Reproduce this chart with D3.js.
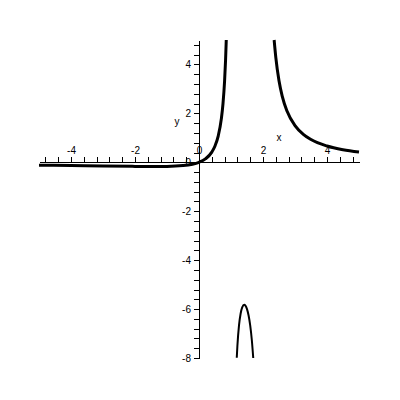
<!DOCTYPE html>
<html>
<head>
<meta charset="utf-8">
<script src="https://cdn.jsdelivr.net/npm/d3@7"></script>
<style>
  body { margin: 0; background: #fff; }
  svg { display: block; }
  text { font-family: "Liberation Sans", Arial, sans-serif; font-size: 10px; fill: #000; }
  .axis path, .axis line { shape-rendering: crispEdges; stroke: #000; }
</style>
</head>
<body>
<div id="chart"></div>
<script>
// values, one array per branch
var leftX  = [-5, -4, -3, -2, -1.5, -1, -0.5, 0, 0.2, 0.4, 0.5, 0.6, 0.7, 0.75, 0.8, 0.83, 0.852];
var leftY  = [-0.119, -0.133, -0.15, -0.167, -0.171, -0.167, -0.133, 0, 0.139, 0.417, 0.667, 1.071, 1.795, 2.4, 3.333, 4.173, 5];
var archX  = [1.18, 1.2, 1.25, 1.3, 1.35, 1.414, 1.45, 1.5, 1.55, 1.6, 1.65, 1.695];
var archY  = [-7.99, -7.5, -6.667, -6.19, -5.934, -5.828, -5.859, -6, -6.263, -6.667, -7.253, -8];
var rightX = [2.348, 2.4, 2.5, 2.6, 2.75, 3, 3.25, 3.5, 4, 4.5, 5];
var rightY = [5, 4.286, 3.333, 2.708, 2.095, 1.5, 1.156, 0.933, 0.667, 0.514, 0.417];

var xTickLabels = [-4, -2, 0, 2, 4];
var yTickLabels = [-8, -6, -4, -2, 0, 2, 4];

var width = 400, height = 400;

var svg = d3.select('#chart')
    .append('svg')
    .attr('width', width)
    .attr('height', height);

var x = d3.scaleLinear().domain([-5, 5]).range([39, 359]);
var y = d3.scaleLinear().domain([-8, 5]).range([358, 40]);

// minor ticks every 0.4, labels only on the even integers
var xTicks = d3.range(-12, 13).map(function(i){ return +(i * 0.4).toFixed(1); });
var yTicks = d3.range(-20, 13).map(function(i){ return +(i * 0.4).toFixed(1); });

function fmt(list) {
  return function(d) { return list.indexOf(d) >= 0 ? d : ''; };
}

svg.append('g')
    .attr('class', 'axis')
    .attr('transform', 'translate(0,' + Math.round(y(0)) + ')')
    .call(d3.axisTop(x).tickValues(xTicks).tickSize(5).tickSizeOuter(0).tickFormat(fmt(xTickLabels)))
    .call(function(g){ g.selectAll('text').attr('font-family', null).attr('font-size', null); });

svg.append('g')
    .attr('class', 'axis')
    .attr('transform', 'translate(' + x(0) + ',0)')
    .call(d3.axisLeft(y).tickValues(yTicks).tickSize(5).tickSizeOuter(0).tickFormat(fmt(yTickLabels)))
    .call(function(g){ g.selectAll('text').attr('font-family', null).attr('font-size', null); });

svg.append('text').attr('x', 279).attr('y', 141).attr('text-anchor', 'middle').text('x');
svg.append('text').attr('x', 177).attr('y', 125).attr('text-anchor', 'middle').text('y');

var line = d3.line()
    .x(function(d){ return x(d[0]); })
    .y(function(d){ return y(d[1]); })
    .curve(d3.curveMonotoneX);

var branches = [
  { xs: leftX,  ys: leftY,  w: 3 },
  { xs: archX,  ys: archY,  w: 2 },
  { xs: rightX, ys: rightY, w: 3 }
];

svg.selectAll('path.branch')
    .data(branches)
    .enter()
      .append('path')
      .attr('class', 'branch')
      .attr('fill', 'none')
      .attr('stroke', '#000')
      .attr('stroke-width', function(d){ return d.w; })
      .attr('d', function(d){ return line(d3.zip(d.xs, d.ys)); });
</script>
</body>
</html>
